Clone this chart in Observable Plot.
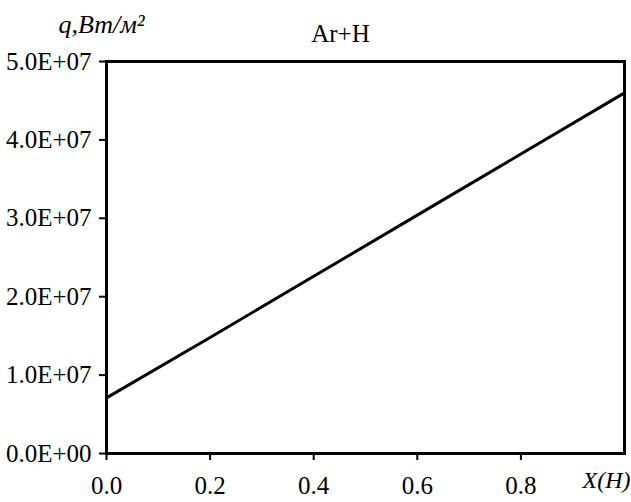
<!DOCTYPE html>
<html>
<head>
<meta charset="utf-8">
<script src="https://cdn.jsdelivr.net/npm/d3@7"></script>
<script src="https://cdn.jsdelivr.net/npm/@observablehq/plot@0.6"></script>
<style>
  html, body { margin: 0; padding: 0; background: white; }
</style>
</head>
<body>
<div id="chart"></div>
<script>
const xValues = [0, 0.2, 0.4, 0.6, 0.8, 1.0];
const qValues = [7.1e6, 1.48e7, 2.26e7, 3.04e7, 3.82e7, 4.6e7];
const xTicks = [0, 0.2, 0.4, 0.6, 0.8];
const yTicks = [0, 1e7, 2e7, 3e7, 4e7, 5e7];
const titleText = "Ar+H";
const yLabelText = "q,Вт/м²";
const xLabelText = "X(H)";

const data = xValues.map((x, i) => ({x, q: qValues[i]}));

function sci(d) {
  if (d === 0) return "0.0E+00";
  const e = Math.floor(Math.log10(Math.abs(d)));
  const m = d / Math.pow(10, e);
  return m.toFixed(1) + "E+" + String(e).padStart(2, "0");
}

const chart = Plot.plot({
  width: 631,
  height: 502,
  marginLeft: 106,
  marginRight: 7,
  marginTop: 61,
  marginBottom: 49,
  style: {fontFamily: "'Liberation Serif', 'Times New Roman', serif", fontSize: "25px", color: "black", background: "white"},
  x: {domain: [0, 1]},
  y: {domain: [0, 5e7]},
  marks: [
    Plot.axisX(xTicks, {tickSize: 7, tickPadding: 16, tickFormat: d => d.toFixed(1), label: null, strokeWidth: 2, fontSize: 25}),
    Plot.axisY(yTicks, {tickSize: 7, tickPadding: 8, tickFormat: sci, label: null, strokeWidth: 2, fontSize: 25}),
    Plot.line(data, {x: "x", y: "q", stroke: "black", strokeWidth: 3}),
    Plot.frame({stroke: "black", strokeWidth: 3}),
    Plot.text([titleText], {frameAnchor: "top-left", dx: 234, dy: -37, textAnchor: "middle", fontSize: 25, fill: "black"}),
    Plot.text([yLabelText], {frameAnchor: "top-left", dx: -48, dy: -47, textAnchor: "start", fontSize: 26, fontStyle: "italic", fill: "black"}),
    Plot.text([xLabelText], {frameAnchor: "bottom-left", dx: 500, dy: 34, textAnchor: "middle", fontSize: 24, fontStyle: "italic", fill: "black"})
  ]
});
document.getElementById("chart").appendChild(chart);
</script>
</body>
</html>
